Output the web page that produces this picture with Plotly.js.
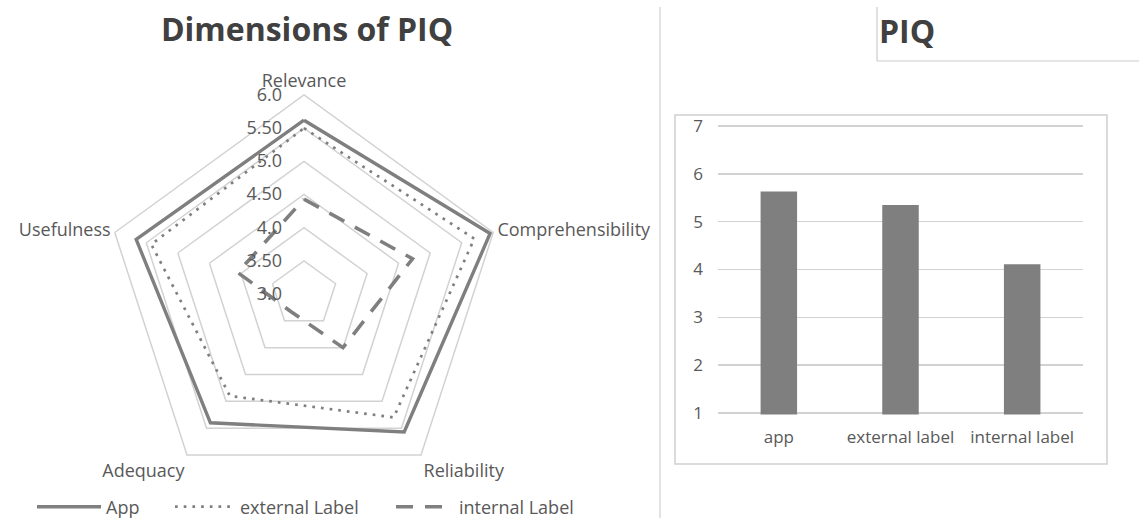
<!DOCTYPE html>
<html>
<head>
<meta charset="utf-8">
<script src="https://cdn.plot.ly/plotly-3.0.1.min.js"></script>
<style>
  html, body { margin: 0; padding: 0; background: #ffffff; }
  #chart { width: 1139px; height: 518px; }
</style>
</head>
<body>
<div id="chart"></div>
<script>
// PIQ dimensions per labelling approach (7-point scale)
const dimensions = ["Relevance", "Comprehensibility", "Reliability", "Adequacy", "Usefulness"];
const appScores = [5.62, 5.95, 5.57, 5.40, 5.66];
const externalScores = [5.50, 5.70, 5.30, 4.90, 5.42];
const internalScores = [4.43, 4.72, 4.00, 3.33, 4.05];

// radial ticks
const radialTickVals = [3.0, 3.5, 4.0, 4.5, 5.0, 5.5, 6.0];
const radialTickText = ["3.0", "3.50", "4.0", "4.50", "5.0", "5.50", "6.0"];

// overall PIQ per approach
const approaches = ["app", "external label", "internal label"];
const piqOverall = [5.63, 5.35, 4.11];
const barTicks = [1, 2, 3, 4, 5, 6, 7];

const GREY = "#7f7f7f";
const TEXT = "#595959";
const GRID = "#d2d2d2";
const FONT = "'Open Sans', 'Noto Sans', sans-serif";

// close each polygon by repeating its first vertex
const closed = arr => arr.concat(arr.slice(0, 1));
// pad radial labels so they sit clear of the vertical axis
const PAD = "\u00a0\u00a0\u00a0\u00a0";

const traces = [
  {
    type: "scatterpolar", subplot: "polar", name: "App", legend: "legend",
    r: closed(appScores), theta: closed(dimensions), mode: "lines",
    line: { color: GREY, width: 3.4 }
  },
  {
    type: "scatterpolar", subplot: "polar", name: "external Label", legend: "legend2",
    r: closed(externalScores), theta: closed(dimensions), mode: "lines",
    line: { color: GREY, width: 2.7, dash: "2.7px,6px" }
  },
  {
    type: "scatterpolar", subplot: "polar", name: "internal Label", legend: "legend3",
    r: closed(internalScores), theta: closed(dimensions), mode: "lines",
    line: { color: GREY, width: 3.6, dash: "17px,12px" }
  },
  {
    type: "bar", xaxis: "x", yaxis: "y", showlegend: false,
    x: approaches, y: piqOverall, width: 0.3,
    marker: { color: GREY }
  }
];

const W = 1139, H = 518;
const px = v => v / W;
const py = v => 1 - v / H;

// one legend per series so each entry sits at its own spot along the bottom
const legendAt = (left, sample) => ({
  orientation: "v",
  x: px(left), xanchor: "left",
  y: py(507), yanchor: "middle",
  font: { size: 18, color: TEXT },
  itemwidth: sample,
  bgcolor: "rgba(0,0,0,0)"
});

// value axis of the bar panel: 1 sits at y=413px and 7 at y=126px;
// the range is opened slightly so the gridlines at 1 and 7 are kept
const BAR_LO = 0.97, BAR_HI = 7.03;
const unitPx = (413 - 126) / 6;
const barTop = 126 - (BAR_HI - 7) * unitPx;
const barBottom = 413 + (1 - BAR_LO) * unitPx;

const layout = {
  width: W, height: H,
  margin: { l: 0, r: 0, t: 0, b: 0, autoexpand: false },
  paper_bgcolor: "#ffffff",
  plot_bgcolor: "#ffffff",
  font: { family: FONT, color: TEXT, size: 18 },
  title: {
    text: "Dimensions of PIQ",
    font: { family: FONT, size: 32, color: "#404040", weight: "bold" },
    x: px(307), xanchor: "center", xref: "paper",
    y: py(30), yanchor: "middle", yref: "container"
  },
  polar: {
    domain: { x: [px(105), px(503)], y: [py(493), py(95)] },
    gridshape: "linear",
    bgcolor: "#ffffff",
    radialaxis: {
      range: [3, 6],
      angle: 90,
      side: "counterclockwise",
      tickangle: 90,
      tickvals: radialTickVals,
      ticktext: radialTickText.map(t => t + PAD),
      showline: false,
      ticks: "",
      gridcolor: GRID,
      gridwidth: 1.5,
      tickfont: { size: 18, color: TEXT }
    },
    angularaxis: {
      rotation: 90,
      direction: "clockwise",
      showgrid: false,
      showline: true,
      linecolor: GRID,
      linewidth: 1.5,
      ticks: "",
      tickfont: { size: 18, color: TEXT }
    }
  },
  xaxis: {
    domain: [px(718), px(1083)],
    anchor: "y",
    showline: false, ticks: "", showgrid: false,
    tickfont: { size: 17, color: TEXT },
    ticklabelstandoff: 11
  },
  yaxis: {
    domain: [py(barBottom), py(barTop)],
    anchor: "x",
    range: [BAR_LO, BAR_HI], tickvals: barTicks,
    showline: false, ticks: "", zeroline: false,
    gridcolor: GRID, gridwidth: 1.5,
    tickfont: { size: 17, color: TEXT },
    ticklabelstandoff: 14
  },
  showlegend: true,
  legend: legendAt(32, 64),
  legend2: legendAt(170, 60),
  legend3: legendAt(391, 58),
  annotations: [
    {
      text: "PIQ", showarrow: false,
      xref: "paper", yref: "paper",
      x: px(877), xanchor: "left",
      y: py(31), yanchor: "middle",
      font: { family: FONT, size: 32, color: "#404040", weight: "bold" }
    }
  ],
  shapes: [
    // divider between the two panels
    { type: "line", xref: "paper", yref: "paper", x0: px(660), x1: px(660), y0: py(7), y1: 0,
      line: { color: "#d0d0d0", width: 1.2 } },
    // frame around the bar panel
    { type: "rect", xref: "paper", yref: "paper", x0: px(675), x1: px(1107), y0: py(464), y1: py(115),
      line: { color: "#d0d0d0", width: 1.5 } },
    // title box edges of the bar panel
    { type: "line", xref: "paper", yref: "paper", x0: px(877), x1: px(877), y0: py(7), y1: py(61),
      line: { color: "#cccccc", width: 1.2 } },
    { type: "line", xref: "paper", yref: "paper", x0: px(877), x1: 1, y0: py(61), y1: py(61),
      line: { color: "#cccccc", width: 1.2 } }
  ]
};

Plotly.newPlot("chart", traces, layout, { displayModeBar: false, staticPlot: true });
</script>
</body>
</html>
